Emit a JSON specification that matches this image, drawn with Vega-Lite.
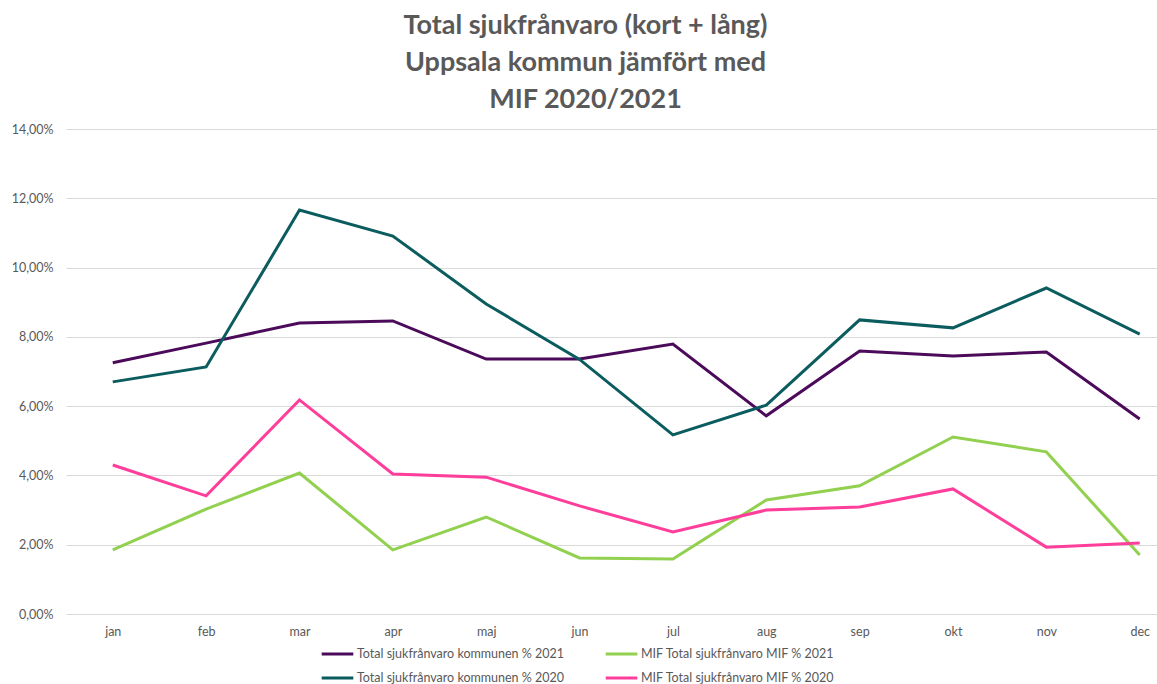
{
  "$schema": "https://vega.github.io/schema/vega-lite/v6.json",
  "autosize": "none",
  "width": 1091,
  "height": 485,
  "padding": {"left": 66, "top": 129, "right": 0, "bottom": 70},
  "background": "white",
  "title": {
    "text": ["Total sjukfrånvaro (kort + lång)", "Uppsala kommun jämfört med", "MIF 2020/2021"],
    "anchor": "middle",
    "dx": -26,
    "offset": 9,
    "font": "Lato",
    "fontSize": 27,
    "fontWeight": "bold",
    "color": "#595959",
    "lineHeight": 37
  },
  "data": {
    "values": [
      {"manad": "jan", "serie": "Total sjukfrånvaro kommunen % 2021", "varde": 0.0725},
      {"manad": "feb", "serie": "Total sjukfrånvaro kommunen % 2021", "varde": 0.0782},
      {"manad": "mar", "serie": "Total sjukfrånvaro kommunen % 2021", "varde": 0.0840},
      {"manad": "apr", "serie": "Total sjukfrånvaro kommunen % 2021", "varde": 0.0846},
      {"manad": "maj", "serie": "Total sjukfrånvaro kommunen % 2021", "varde": 0.0736},
      {"manad": "jun", "serie": "Total sjukfrånvaro kommunen % 2021", "varde": 0.0736},
      {"manad": "jul", "serie": "Total sjukfrånvaro kommunen % 2021", "varde": 0.0779},
      {"manad": "aug", "serie": "Total sjukfrånvaro kommunen % 2021", "varde": 0.0572},
      {"manad": "sep", "serie": "Total sjukfrånvaro kommunen % 2021", "varde": 0.0759},
      {"manad": "okt", "serie": "Total sjukfrånvaro kommunen % 2021", "varde": 0.0745},
      {"manad": "nov", "serie": "Total sjukfrånvaro kommunen % 2021", "varde": 0.0756},
      {"manad": "dec", "serie": "Total sjukfrånvaro kommunen % 2021", "varde": 0.0563},
      {"manad": "jan", "serie": "MIF Total sjukfrånvaro MIF % 2021", "varde": 0.0185},
      {"manad": "feb", "serie": "MIF Total sjukfrånvaro MIF % 2021", "varde": 0.0303},
      {"manad": "mar", "serie": "MIF Total sjukfrånvaro MIF % 2021", "varde": 0.0407},
      {"manad": "apr", "serie": "MIF Total sjukfrånvaro MIF % 2021", "varde": 0.0185},
      {"manad": "maj", "serie": "MIF Total sjukfrånvaro MIF % 2021", "varde": 0.0280},
      {"manad": "jun", "serie": "MIF Total sjukfrånvaro MIF % 2021", "varde": 0.0162},
      {"manad": "jul", "serie": "MIF Total sjukfrånvaro MIF % 2021", "varde": 0.0159},
      {"manad": "aug", "serie": "MIF Total sjukfrånvaro MIF % 2021", "varde": 0.0329},
      {"manad": "sep", "serie": "MIF Total sjukfrånvaro MIF % 2021", "varde": 0.0370},
      {"manad": "okt", "serie": "MIF Total sjukfrånvaro MIF % 2021", "varde": 0.0511},
      {"manad": "nov", "serie": "MIF Total sjukfrånvaro MIF % 2021", "varde": 0.0468},
      {"manad": "dec", "serie": "MIF Total sjukfrånvaro MIF % 2021", "varde": 0.0170},
      {"manad": "jan", "serie": "Total sjukfrånvaro kommunen % 2020", "varde": 0.0670},
      {"manad": "feb", "serie": "Total sjukfrånvaro kommunen % 2020", "varde": 0.0713},
      {"manad": "mar", "serie": "Total sjukfrånvaro kommunen % 2020", "varde": 0.1166},
      {"manad": "apr", "serie": "Total sjukfrånvaro kommunen % 2020", "varde": 0.1091},
      {"manad": "maj", "serie": "Total sjukfrånvaro kommunen % 2020", "varde": 0.0895},
      {"manad": "jun", "serie": "Total sjukfrånvaro kommunen % 2020", "varde": 0.0735},
      {"manad": "jul", "serie": "Total sjukfrånvaro kommunen % 2020", "varde": 0.0517},
      {"manad": "aug", "serie": "Total sjukfrånvaro kommunen % 2020", "varde": 0.0603},
      {"manad": "sep", "serie": "Total sjukfrånvaro kommunen % 2020", "varde": 0.0849},
      {"manad": "okt", "serie": "Total sjukfrånvaro kommunen % 2020", "varde": 0.0826},
      {"manad": "nov", "serie": "Total sjukfrånvaro kommunen % 2020", "varde": 0.0941},
      {"manad": "dec", "serie": "Total sjukfrånvaro kommunen % 2020", "varde": 0.0808},
      {"manad": "jan", "serie": "MIF Total sjukfrånvaro MIF % 2020", "varde": 0.0430},
      {"manad": "feb", "serie": "MIF Total sjukfrånvaro MIF % 2020", "varde": 0.0341},
      {"manad": "mar", "serie": "MIF Total sjukfrånvaro MIF % 2020", "varde": 0.0618},
      {"manad": "apr", "serie": "MIF Total sjukfrånvaro MIF % 2020", "varde": 0.0404},
      {"manad": "maj", "serie": "MIF Total sjukfrånvaro MIF % 2020", "varde": 0.0395},
      {"manad": "jun", "serie": "MIF Total sjukfrånvaro MIF % 2020", "varde": 0.0312},
      {"manad": "jul", "serie": "MIF Total sjukfrånvaro MIF % 2020", "varde": 0.0237},
      {"manad": "aug", "serie": "MIF Total sjukfrånvaro MIF % 2020", "varde": 0.0300},
      {"manad": "sep", "serie": "MIF Total sjukfrånvaro MIF % 2020", "varde": 0.0309},
      {"manad": "okt", "serie": "MIF Total sjukfrånvaro MIF % 2020", "varde": 0.0361},
      {"manad": "nov", "serie": "MIF Total sjukfrånvaro MIF % 2020", "varde": 0.0193},
      {"manad": "dec", "serie": "MIF Total sjukfrånvaro MIF % 2020", "varde": 0.0205}
    ]
  },
  "mark": {"type": "line", "strokeWidth": 3, "strokeJoin": "miter"},
  "encoding": {
    "x": {
      "field": "manad",
      "type": "ordinal",
      "sort": ["jan", "feb", "mar", "apr", "maj", "jun", "jul", "aug", "sep", "okt", "nov", "dec"],
      "scale": {"type": "point", "padding": 0.343, "align": 0.73},
      "axis": {
        "title": null,
        "labelAngle": 0,
        "domain": false,
        "ticks": false,
        "grid": false,
        "labelPadding": 11,
        "labelFont": "Lato",
        "labelFontSize": 12.5,
        "labelColor": "#595959"
      }
    },
    "y": {
      "field": "varde",
      "type": "quantitative",
      "scale": {"domain": [0, 0.14], "nice": false},
      "axis": {
        "title": null,
        "values": [0, 0.02, 0.04, 0.06, 0.08, 0.1, 0.12, 0.14],
        "labelExpr": "replace(format(datum.value, '.2%'), '.', ',')",
        "domain": false,
        "ticks": false,
        "grid": true,
        "gridColor": "#d9d9d9",
        "gridWidth": 1,
        "labelPadding": 13,
        "labelFont": "Lato",
        "labelFontSize": 12.5,
        "labelColor": "#595959"
      }
    },
    "color": {
      "field": "serie",
      "type": "nominal",
      "sort": ["Total sjukfrånvaro kommunen % 2021", "MIF Total sjukfrånvaro MIF % 2021", "Total sjukfrånvaro kommunen % 2020", "MIF Total sjukfrånvaro MIF % 2020"],
      "scale": {
        "domain": ["Total sjukfrånvaro kommunen % 2021", "MIF Total sjukfrånvaro MIF % 2021", "Total sjukfrånvaro kommunen % 2020", "MIF Total sjukfrånvaro MIF % 2020"],
        "range": ["#4b0a5a", "#92d050", "#0b5c5e", "#ff3d9a"]
      },
      "legend": {
        "title": null,
        "orient": "none",
        "legendX": 254,
        "legendY": 517,
        "direction": "horizontal",
        "columns": 2,
        "columnPadding": 40,
        "rowPadding": 8,
        "clipHeight": 16,
        "padding": 0,
        "symbolType": "stroke",
        "symbolSize": 1000,
        "symbolStrokeWidth": 3,
        "labelOffset": 2,
        "labelLimit": 400,
        "labelFont": "Lato",
        "labelFontSize": 12.5,
        "labelColor": "#595959"
      }
    }
  },
  "config": {
    "view": {"stroke": null}
  }
}
